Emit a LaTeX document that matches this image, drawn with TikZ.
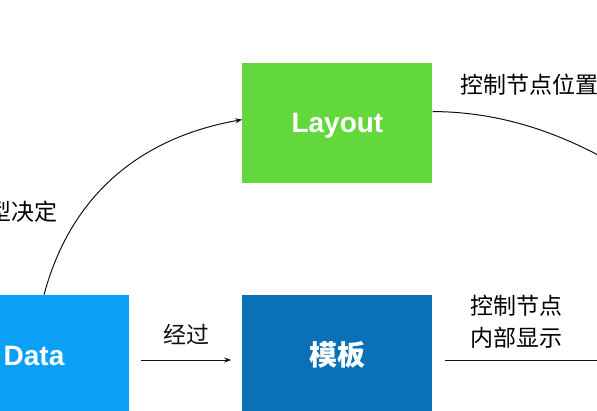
\documentclass[tikz,border=0pt]{standalone}
\usepackage{fontspec}
\setmainfont{Liberation Sans}
\newfontfamily\cjk{Noto Sans CJK SC}
\usetikzlibrary{arrows.meta, positioning}
\definecolor{layoutgreen}{HTML}{62D83C}
\definecolor{datablue}{HTML}{0AA0F6}
\definecolor{tplblue}{HTML}{0A71B7}
\definecolor{darkgray}{HTML}{111111}
\tikzset{
  block/.style={
    rectangle, inner sep=0pt,
    minimum width=190pt, minimum height=120pt,
    text height=20pt, text depth=0pt,
    text=white, font=\fontsize{28}{30}\selectfont\bfseries,
  },
  layoutbox/.style={block, fill=layoutgreen},
  databox/.style={block, fill=datablue},
  tplbox/.style={block, fill=tplblue, font=\fontsize{28}{30}\selectfont\cjk\bfseries},
  arrow/.style={-{Stealth[length=7pt, width=5pt]}, line width=1pt, color=darkgray},
  link/.style={line width=1pt, color=darkgray},
  note/.style={font=\fontsize{23}{32}\selectfont\cjk, align=center, inner sep=0pt},
}

\begin{document}
\begin{tikzpicture}[x=1pt, y=1pt]

  \useasboundingbox (0,0) rectangle (597,410);
  \clip (0,0) rectangle (597,410);

  \node[databox] (data) at (34,55) {Data};
  \node[tplbox, right=113pt of data] (tpl) {模板};
  \node[layoutbox, above=112pt of tpl] (layout) {Layout};
  \coordinate (viewtop) at (700,184);
  \coordinate (viewin) at (620,50);

  \draw[arrow] ([xshift=10pt]data.north) to[out=75, in=190] ([yshift=3pt]layout.west);
  \node[note, anchor=east] (typenote) at (58,198) {型决定};
  \draw[arrow] ([xshift=12pt, yshift=-5pt]data.east) -- node[note, above=15pt] (passnote) {经过} ([xshift=-11pt, yshift=-5pt]tpl.west);
  \draw[link] ([yshift=11pt]layout.east) .. controls +(89pt,0pt) and +(-89pt,77pt) .. (viewtop);
  \node[note, anchor=west] (posnote) at (460,325) {控制节点位置};
  \draw[link] ([xshift=12pt, yshift=-5pt]tpl.east) -- (viewin);
  \node[note] (innernote) at (516,88) {控制节点\\内部显示};

\end{tikzpicture}
\end{document}
